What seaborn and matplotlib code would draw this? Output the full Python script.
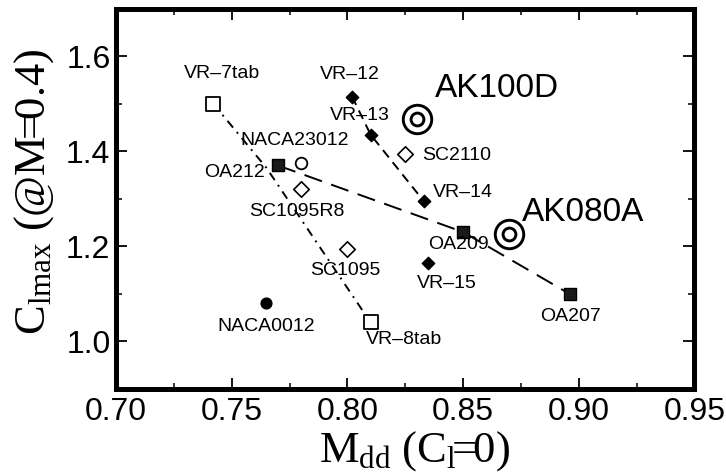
import matplotlib
matplotlib.use("Agg")
import matplotlib.pyplot as plt
import seaborn as sns
import pandas as pd
from matplotlib.ticker import MultipleLocator, FormatStrFormatter

# ---- data -------------------------------------------------------------
names = ["VR–7tab", "VR–8tab", "OA212", "OA209", "OA207",
         "VR–12", "VR–13", "VR–14", "VR–15",
         "SC1095R8", "SC1095", "SC2110",
         "NACA23012", "NACA0012", "AK100D", "AK080A"]
mdd = [0.742, 0.810, 0.770, 0.850, 0.896,
       0.802, 0.810, 0.833, 0.835,
       0.780, 0.800, 0.825,
       0.780, 0.765, 0.830, 0.870]
clmax = [1.50, 1.04, 1.37, 1.23, 1.10,
         1.515, 1.435, 1.295, 1.165,
         1.32, 1.195, 1.395,
         1.375, 1.08, 1.467, 1.225]
family = ["tab", "tab", "oa", "oa", "oa",
          "vr", "vr", "vr", "vr",
          "sc", "sc", "sc",
          "naca_open", "naca_fill", "ak", "ak"]

# trend line through the tabbed VR sections
tab_trend_mdd = [0.742, 0.765, 0.810]
tab_trend_clmax = [1.50, 1.365, 1.04]

x_ticks = [0.70, 0.75, 0.80, 0.85, 0.90, 0.95]
y_ticks = [1.0, 1.2, 1.4, 1.6]

df = pd.DataFrame({"name": names, "mdd": mdd, "clmax": clmax, "family": family})

# ---- style ------------------------------------------------------------
sns.set_theme(style="ticks")
plt.rcParams["font.family"] = ["Liberation Sans", "DejaVu Sans"]
plt.rcParams["mathtext.fontset"] = "custom"
plt.rcParams["mathtext.rm"] = "Liberation Serif"
plt.rcParams["mathtext.it"] = "Liberation Serif:italic"
plt.rcParams["lines.scale_dashes"] = True
plt.rcParams["text.color"] = "black"
plt.rcParams["axes.labelcolor"] = "black"

fig = plt.figure(figsize=(7.26, 4.76), dpi=100)
ax = fig.add_axes([0.1598, 0.1828, 0.9566 - 0.1598, 0.9821 - 0.1828])

# connecting lines
sns.lineplot(x=tab_trend_mdd, y=tab_trend_clmax, ax=ax, color="black",
             lw=1.4, dashes=False, sort=False, estimator=None)
ax.lines[-1].set_dashes((4.5, 3, 1, 3))
oa = df[df.family == "oa"]
sns.lineplot(data=oa, x="mdd", y="clmax", ax=ax, color="black", lw=1.4,
             sort=False, estimator=None)
ax.lines[-1].set_dashes((9.5, 5))
vr = df[df.family == "vr"].iloc[:3]
sns.lineplot(data=vr, x="mdd", y="clmax", ax=ax, color="black", lw=1.4,
             sort=False, estimator=None)
ax.lines[-1].set_dashes((4.8, 3.2))

# markers per airfoil family
marker_style = {
    "tab": dict(marker="s", s=88, facecolor="white", edgecolor="black", linewidth=1.3),
    "oa": dict(marker="s", s=72, facecolor="#1a1a1a", edgecolor="black", linewidth=1.0),
    "vr": dict(marker="D", s=40, facecolor="black", edgecolor="black", linewidth=1.0),
    "sc": dict(marker="D", s=62, facecolor="white", edgecolor="black", linewidth=1.2),
    "naca_open": dict(marker="o", s=70, facecolor="white", edgecolor="black", linewidth=1.3),
    "naca_fill": dict(marker="o", s=60, facecolor="black", edgecolor="black", linewidth=1.0),
}
for fam, st in marker_style.items():
    sub = df[df.family == fam]
    sns.scatterplot(data=sub, x="mdd", y="clmax", ax=ax, zorder=3, legend=False, **st)

ak = df[df.family == "ak"]
sns.scatterplot(data=ak, x="mdd", y="clmax", ax=ax, marker="o", s=420,
                facecolor="white", edgecolor="black", linewidth=2.1, zorder=4, legend=False)
sns.scatterplot(data=ak, x="mdd", y="clmax", ax=ax, marker="o", s=85,
                facecolor="white", edgecolor="black", linewidth=2.1, zorder=5, legend=False)

# point labels (offsets in points from each marker)
label_pos = {
    "VR–7tab": (6, 22, "center"), "VR–8tab": (24, -12, "center"),
    "OA212": (-9.5, -5, "right"), "OA209": (-3, -9, "center"),
    "OA207": (0.5, -16.5, "center"),
    "VR–12": (-1.5, 16, "center"), "VR–13": (-8, 13.5, "center"),
    "VR–14": (6.5, 6, "left"), "VR–15": (13.5, -14.5, "center"),
    "SC1095R8": (-3, -16, "center"), "SC1095": (-1.5, -16, "center"),
    "SC2110": (12, -1.5, "left"),
    "NACA23012": (-4.5, 16.5, "center"), "NACA0012": (0, -16.5, "center"),
    "AK100D": (58, 22, "center"), "AK080A": (53, 16, "center"),
}
for _, r in df.iterrows():
    dx, dy, ha = label_pos[r["name"]]
    big = r["family"] == "ak"
    ax.annotate(r["name"], (r["mdd"], r["clmax"]), xytext=(dx, dy),
                textcoords="offset points", ha=ha, va="center",
                fontsize=24 if big else 14, color="black", zorder=6)

# axes
ax.set_xlim(0.70, 0.95)
ax.set_ylim(0.90, 1.70)
ax.set_xticks(x_ticks)
ax.set_yticks(y_ticks)
ax.xaxis.set_major_formatter(FormatStrFormatter("%.2f"))
ax.yaxis.set_major_formatter(FormatStrFormatter("%.1f"))
ax.xaxis.set_minor_locator(MultipleLocator(0.025))
ax.yaxis.set_minor_locator(MultipleLocator(0.1))
ax.tick_params(which="both", direction="in", top=True, right=True,
               color="black", labelcolor="black")
ax.tick_params(which="major", length=8, width=1.3, labelsize=23)
ax.tick_params(axis="x", which="major", pad=6)
ax.tick_params(axis="y", which="major", pad=4)
ax.tick_params(which="minor", length=4.5, width=1.1)
for sp in ax.spines.values():
    sp.set_visible(True)
    sp.set_linewidth(3.6)
    sp.set_color("black")

ax.set_xlabel(r"$\mathrm{M_{dd}\ (C_{l}\!\!=\!\!0)}$", fontsize=32, color="black")
ax.set_ylabel(r"$\mathrm{C_{lmax}\ (@M\!\!=\!\!0.4)}$", fontsize=32, color="black")
ax.xaxis.set_label_coords(0.516, -0.105)
ax.yaxis.set_label_coords(-0.104, 0.518)

fig.savefig("out.png", dpi=100)
